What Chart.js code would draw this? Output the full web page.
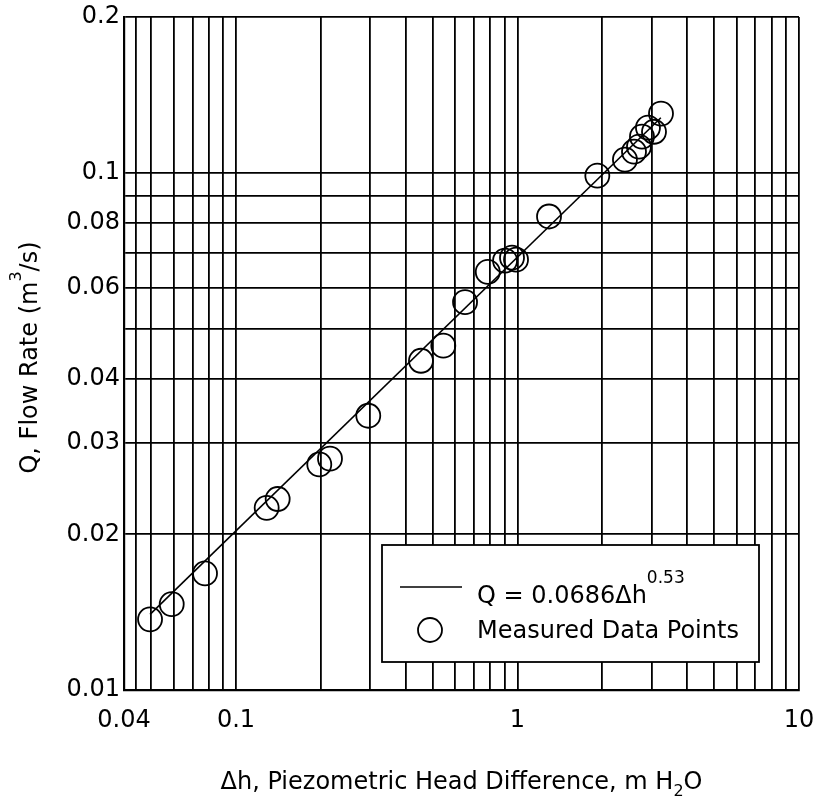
<!DOCTYPE html>
<html>
<head>
<meta charset="utf-8">
<script src="https://cdn.jsdelivr.net/npm/chart.js@4"></script>
<style>
  body { margin: 0; background: #fff; }
  canvas { display: block; }
</style>
</head>
<body>
<canvas id="flowChart" width="819" height="797"></canvas>
<script>
// measured points
var headDiff = [0.0495, 0.0591, 0.0776, 0.1285, 0.1406, 0.1976, 0.2157, 0.295, 0.454, 0.545, 0.651, 0.784,
                0.903, 0.956, 0.988, 1.294, 1.921, 2.408, 2.593, 2.701, 2.768, 2.907, 3.054, 3.234];
var flowRate = [0.0137, 0.01465, 0.0168, 0.0225, 0.0234, 0.0273, 0.0280, 0.0339, 0.0433, 0.0463, 0.0562, 0.0643,
                0.0676, 0.0685, 0.0679, 0.0823, 0.0987, 0.1060, 0.1098, 0.1123, 0.1174, 0.1222, 0.1200, 0.1301];

// fitted line Q = 0.0686 dh^0.53, its two end points
var fitHead = [0.0495, 3.23];
var fitFlow = [0.0140, 0.1277];

// grid lines and labelled ticks
var xGrid = [0.04, 0.044, 0.05, 0.06, 0.07, 0.08, 0.09, 0.1, 0.2, 0.3, 0.4, 0.5, 0.6, 0.7, 0.8, 0.9,
             1, 2, 3, 4, 5, 6, 7, 8, 9, 10];
var xLabels = [0.04, 0.1, 1, 10];
var yGrid = [0.01, 0.02, 0.03, 0.04, 0.05, 0.06, 0.07, 0.08, 0.09, 0.1, 0.2];
var yLabels = [0.01, 0.02, 0.03, 0.04, 0.06, 0.08, 0.1, 0.2];

var FONT = '"DejaVu Sans", sans-serif';

function drawRich(ctx, parts, x, y, align) {
    var total = 0;
    parts.forEach(function (p) {
        ctx.font = p.size + 'px ' + FONT;
        p.w = ctx.measureText(p.text).width;
        total += p.w;
    });
    var cx = align === 'center' ? x - total / 2 : x;
    ctx.textAlign = 'left';
    ctx.textBaseline = 'alphabetic';
    parts.forEach(function (p) {
        ctx.font = p.size + 'px ' + FONT;
        ctx.fillText(p.text, cx, y + (p.dy || 0));
        cx += p.w;
    });
}

var extras = {
    id: 'extras',
    afterDraw: function (chart) {
        var ctx = chart.ctx;
        var area = chart.chartArea;
        ctx.save();
        ctx.fillStyle = '#000';

        // axis titles
        drawRich(ctx, [
            { text: '\u0394h, Piezometric Head Difference, m H', size: 24 },
            { text: '2', size: 16, dy: 7 },
            { text: 'O', size: 24 }
        ], (area.left + area.right) / 2, 789, 'center');

        ctx.save();
        ctx.translate(37, (area.top + area.bottom) / 2 + 4);
        ctx.rotate(-Math.PI / 2);
        drawRich(ctx, [
            { text: 'Q, Flow Rate (m', size: 24 },
            { text: '3', size: 16, dy: -16 },
            { text: '/s)', size: 24 }
        ], 0, 0, 'center');
        ctx.restore();

        // legend box
        ctx.fillStyle = '#fff';
        ctx.fillRect(382, 545, 377, 117);
        ctx.strokeStyle = '#000';
        ctx.lineWidth = 1.8;
        ctx.strokeRect(382, 545, 377, 117);

        ctx.lineWidth = 1.5;
        ctx.beginPath();
        ctx.moveTo(400, 587);
        ctx.lineTo(462, 587);
        ctx.stroke();

        ctx.lineWidth = 1.8;
        ctx.beginPath();
        ctx.arc(430, 630, 12, 0, Math.PI * 2);
        ctx.stroke();

        ctx.fillStyle = '#000';
        drawRich(ctx, [
            { text: 'Q = 0.0686\u0394h', size: 24 },
            { text: '0.53', size: 17, dy: -20 }
        ], 477, 603, 'left');
        drawRich(ctx, [{ text: 'Measured Data Points', size: 24 }], 477, 638, 'left');

        ctx.restore();
    }
};

function setTicks(values) {
    return function (scale) {
        scale.ticks = values.map(function (v) { return { value: v }; });
    };
}

new Chart(document.getElementById('flowChart'), {
    type: 'scatter',
    data: {
        datasets: [{
            type: 'line',
            label: 'Q = 0.0686\u0394h^0.53',
            data: fitHead.map(function (h, i) { return { x: h, y: fitFlow[i] }; }),
            borderColor: '#000',
            borderWidth: 1.6,
            pointRadius: 0,
            fill: false
        }, {
            label: 'Measured Data Points',
            data: headDiff.map(function (h, i) { return { x: h, y: flowRate[i] }; }),
            pointStyle: 'circle',
            pointRadius: 12,
            borderColor: '#000',
            borderWidth: 1.8,
            backgroundColor: 'rgba(0,0,0,0)'
        }]
    },
    options: {
        responsive: false,
        animation: false,
        devicePixelRatio: 1,
        layout: { padding: { top: 17, right: 20, left: 0, bottom: 0 } },
        plugins: { legend: { display: false }, tooltip: { enabled: false } },
        scales: {
            x: {
                type: 'logarithmic',
                min: 0.04,
                max: 10,
                afterBuildTicks: setTicks(xGrid),
                afterFit: function (scale) {
                    scale.height = 107;
                    scale.paddingLeft = 0;
                    scale.paddingRight = 0;
                },
                grid: { color: '#000', lineWidth: 1.8, drawTicks: false },
                border: { color: '#000', width: 2.2 },
                ticks: {
                    autoSkip: false,
                    maxRotation: 0,
                    padding: 16,
                    color: '#000',
                    font: { family: FONT, size: 24 },
                    callback: function (v) { return xLabels.indexOf(v) >= 0 ? String(v) : ''; }
                }
            },
            y: {
                type: 'logarithmic',
                min: 0.01,
                max: 0.2,
                afterBuildTicks: setTicks(yGrid),
                afterFit: function (scale) {
                    scale.width = 124;
                    scale.paddingTop = 0;
                    scale.paddingBottom = 0;
                },
                grid: { color: '#000', lineWidth: 1.8, drawTicks: false },
                border: { color: '#000', width: 2.2 },
                ticks: {
                    autoSkip: false,
                    padding: 4,
                    color: '#000',
                    font: { family: FONT, size: 24 },
                    callback: function (v) { return yLabels.indexOf(v) >= 0 ? String(v) : ''; }
                }
            }
        }
    },
    plugins: [extras]
});
</script>
</body>
</html>
